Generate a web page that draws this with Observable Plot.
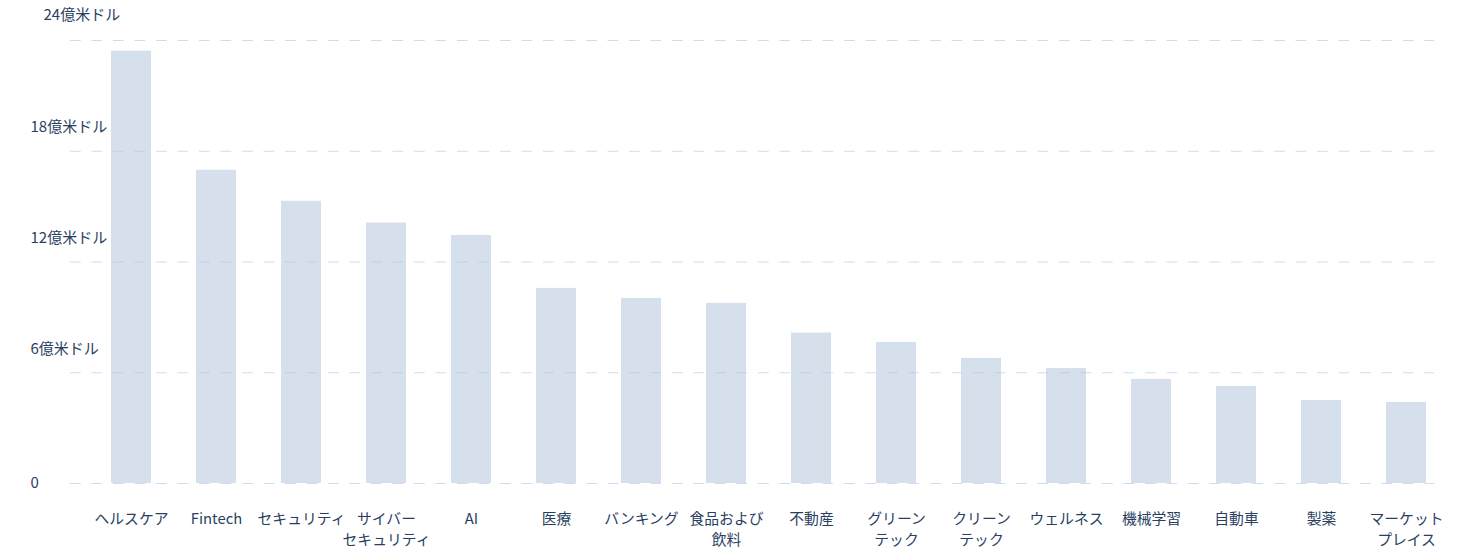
<!DOCTYPE html>
<html>
<head>
<meta charset="utf-8">
<script src="https://cdn.jsdelivr.net/npm/d3@7"></script>
<script src="https://cdn.jsdelivr.net/npm/@observablehq/plot@0.6"></script>
<style>
  html, body { margin: 0; padding: 0; background: #ffffff; }
  #chart svg { display: block; }
</style>
</head>
<body>
<div id="chart"></div>
<script>
// Categories (line breaks as in the reference's wrapped tick labels)
const categories = [
  "ヘルスケア", "Fintech", "セキュリティ", "サイバー\nセキュリティ", "AI", "医療",
  "バンキング", "食品および\n飲料", "不動産", "グリーン\nテック", "クリーン\nテック",
  "ウェルネス", "機械学習", "自動車", "製薬", "マーケット\nプレイス"
];
// Values in 億米ドル
const values = [23.42, 16.97, 15.29, 14.11, 13.44, 10.57, 10.03, 9.76, 8.15, 7.64, 6.78, 6.23, 5.64, 5.26, 4.50, 4.39];
// Y ticks and their labels
const yTicks = [0, 6, 12, 18, 24];
const yTickLabels = ["0", "6億米ドル", "12億米ドル", "18億米ドル", "24億米ドル"];

const data = categories.map((c, i) => ({category: c, value: values[i]}));
const yLabel = d => yTickLabels[yTicks.indexOf(d)];

const textColor = "#2a3f5f";
const font = "'Noto Sans CJK JP', 'Noto Sans', sans-serif";

const chart = Plot.plot({
  width: 1471,
  height: 549,
  marginTop: 40,
  marginBottom: 66,
  marginLeft: 70,
  marginRight: 37,
  style: {fontFamily: font, fontSize: "15px", color: textColor, background: "#ffffff", overflow: "visible"},
  x: {domain: categories, paddingInner: 0.5294, paddingOuter: 0.288, align: 0.837, label: null},
  y: {domain: [0, 24], label: null},
  marks: [
    Plot.barY(data, {x: "category", y: "value", fill: "#d6e0ec"}),
    Plot.ruleY(yTicks, {stroke: "#b4c3dd", strokeOpacity: 0.6, strokeWidth: 1, strokeDasharray: "10.7,10.8"}),
    Plot.axisX({tickSize: 0, tickPadding: 26, fontSize: 14.8, lineHeight: 1.4, fill: textColor, label: null}),
    Plot.axisY([6, 12, 18], {tickSize: 0, tickPadding: 40, textAnchor: "start", dy: -24, tickFormat: yLabel, fill: textColor, label: null}),
    Plot.axisY([24], {tickSize: 0, tickPadding: 27, textAnchor: "start", dy: -25, tickFormat: yLabel, fill: textColor, label: null}),
    Plot.axisY([0], {tickSize: 0, tickPadding: 40, textAnchor: "start", dy: 0, tickFormat: yLabel, fill: textColor, label: null})
  ]
});
document.getElementById("chart").appendChild(chart);
</script>
</body>
</html>
